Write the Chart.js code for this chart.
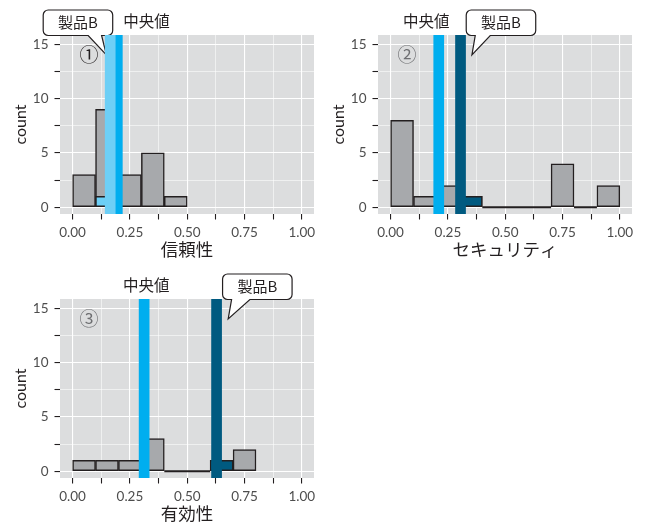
<!DOCTYPE html>
<html><head><meta charset="utf-8">
<script src="https://cdn.jsdelivr.net/npm/chart.js@4.4.1/dist/chart.umd.min.js"></script>
<style>
html,body{margin:0;padding:0;background:#fff;}
body{width:646px;height:527px;position:relative;overflow:hidden;}
canvas{position:absolute;}
</style></head><body>
<canvas id="c1" width="322" height="260" style="left:0px;top:0px"></canvas>
<canvas id="c2" width="322" height="260" style="left:318px;top:0px"></canvas>
<canvas id="c3" width="322" height="260" style="left:0px;top:264px"></canvas>
<script>
// ---- data ----
const axisTitles = ['信頼性', 'セキュリティ', '有効性'];
const panelMarks = ['①', '②', '③'];
const binWidth = 0.1;
const reliabilityCounts = [3, 9, 3, 5, 1];
const securityCounts = [8, 1, 2, 1, 0, 0, 0, 4, 0, 2];
const effectivenessCounts = [1, 1, 1, 3, 0, 0, 1, 2];
const medianValues = [0.195, 0.21, 0.312];
const productBValues = [0.164, 0.305, 0.628];
const productBCount = 1;
const xTickValues = [0, 0.125, 0.25, 0.375, 0.5, 0.625, 0.75, 0.875, 1];
const xTickLabels = ['0.00', '', '0.25', '', '0.50', '', '0.75', '', '1.00'];
const yTickValues = [0, 2.5, 5, 7.5, 10, 12.5, 15];
const yTickLabels = ['0', '', '5', '', '10', '', '15'];
const medianLabel = '中央値';
const productLabel = '製品B';
const yTitle = 'count';

// ---- style ----
const xMin = -0.055, xMax = 1.053, yMin = -0.62, yMax = 15.85;
const panelBg = '#DCDDDE';
const barFill = '#A7A9AC';
const outline = '#231F20';
const medianColor = '#00AEEF';
const bColors = ['#6DCFF6', '#005A80', '#005A80'];
const tickColor = '#4D4D4D';
const latin = 'Lato, "Noto Sans CJK JP", sans-serif';
const cjk = '"Noto Sans CJK JP", sans-serif';
const calloutGeo = [
  {tipDx: -3.8, boxLeft: -63.2, baseL: -18.2, baseR: -4.8, medDx: 29.3},
  {tipDx: 11.4, boxLeft: -5.7, baseL: 3.3, baseR: 18.3, medDx: -12.4},
  {tipDx: 11.6, boxLeft: -5.6, baseL: 3.4, baseR: 21.7, medDx: 2.1}
];

function notesPlugin(idx) {
  return {
    id: 'notes' + idx,
    beforeDraw(chart) {
      const {ctx, chartArea: a} = chart;
      ctx.save();
      ctx.fillStyle = panelBg;
      ctx.fillRect(a.left, a.top, a.right - a.left, a.bottom - a.top);
      ctx.restore();
    },
    beforeDatasetsDraw(chart) {
      const {ctx, chartArea: a, scales} = chart;
      const g = calloutGeo[idx];
      const bx = scales.x.getPixelForValue(productBValues[idx]);
      const tipX = bx + g.tipDx, tipY = a.top + 20;
      const left = tipX + g.boxLeft, right = left + 69.5;
      const top = a.top - 25, bottom = a.top + 0.5, r = 5;
      ctx.save();
      ctx.beginPath();
      ctx.moveTo(left + r, top);
      ctx.lineTo(right - r, top);
      ctx.arcTo(right, top, right, top + r, r);
      ctx.lineTo(right, bottom - r);
      ctx.arcTo(right, bottom, right - r, bottom, r);
      ctx.lineTo(tipX + g.baseR, bottom);
      ctx.lineTo(tipX, tipY);
      ctx.lineTo(tipX + g.baseL, bottom);
      ctx.lineTo(left + r, bottom);
      ctx.arcTo(left, bottom, left, bottom - r, r);
      ctx.lineTo(left, top + r);
      ctx.arcTo(left, top, left + r, top, r);
      ctx.closePath();
      ctx.fillStyle = '#fff';
      ctx.fill();
      ctx.lineWidth = 1.2;
      ctx.strokeStyle = outline;
      ctx.stroke();
      ctx.fillStyle = outline;
      ctx.font = '15px ' + cjk;
      ctx.textAlign = 'center';
      ctx.textBaseline = 'middle';
      ctx.fillText(productLabel, (left + right) / 2, (top + a.top) / 2);
      // median label
      const mx = scales.x.getPixelForValue(medianValues[idx]);
      ctx.font = '15.5px ' + cjk;
      ctx.fillText(medianLabel, mx + g.medDx, a.top - 13.4);
      // panel mark
      ctx.font = '19px ' + cjk;
      ctx.fillStyle = idx === 0 ? '#231F20' : '#6D6E71';
      ctx.fillText(panelMarks[idx], a.left + 29, a.top + 20);
      ctx.restore();
    }
  };
}

function buildPanel(canvasId, idx, counts) {
  const centers = counts.map((_, k) => (k + 0.5) * binWidth);
  const bIndex = Math.floor(productBValues[idx] / binWidth);
  const zeroSegments = [];
  counts.forEach((c, k) => {
    if (c === 0) zeroSegments.push({x: k * binWidth, y: 0}, {x: (k + 1) * binWidth, y: 0});
    else zeroSegments.push({x: centers[k], y: null});
  });
  const bColor = bColors[idx];
  return new Chart(document.getElementById(canvasId), {
    type: 'bar',
    data: {
      datasets: [
        {data: counts.map((c, k) => ({x: centers[k], y: c})), backgroundColor: barFill,
         borderColor: outline, borderWidth: 1.5, borderSkipped: false, grouped: false,
         barPercentage: 1, categoryPercentage: 1, order: 5},
        {data: [{x: centers[bIndex], y: productBCount}], backgroundColor: bColor,
         borderColor: outline, borderWidth: 1.5, borderSkipped: false, grouped: false,
         barPercentage: 1, categoryPercentage: 1, order: 4},
        {type: 'line', data: zeroSegments, borderColor: outline, borderWidth: 1.8,
         pointRadius: 0, spanGaps: false, order: 3},
        {type: 'line', data: [{x: medianValues[idx], y: yMin}, {x: medianValues[idx], y: yMax}],
         borderColor: medianColor, borderWidth: 10.7, pointRadius: 0, borderCapStyle: 'butt', order: 2},
        {type: 'line', data: [{x: productBValues[idx], y: yMin}, {x: productBValues[idx], y: yMax}],
         borderColor: bColor, borderWidth: 10.7, pointRadius: 0, borderCapStyle: 'butt', order: 1}
      ]
    },
    options: {
      responsive: false, animation: false, devicePixelRatio: 1, events: [],
      layout: {padding: {top: 35, right: 8, bottom: 0, left: 0}},
      plugins: {legend: {display: false}, tooltip: {enabled: false}},
      scales: {
        x: {
          type: 'linear', min: xMin, max: xMax, offset: false,
          afterBuildTicks: s => { s.ticks = xTickValues.map(v => ({value: v})); },
          afterFit: s => { s.height = 46; },
          ticks: {callback: (v, i) => xTickLabels[i], color: tickColor, font: {family: latin, size: 13.5},
                  padding: 5, maxRotation: 0, autoSkip: false},
          grid: {offset: false, color: '#ffffff', lineWidth: c => (xTickLabels[c.index] ? 1.1 : 0.55),
                 tickColor: outline, tickLength: 5.5, tickWidth: 1.1},
          border: {display: false},
          title: {display: true, text: axisTitles[idx], color: outline, font: {family: cjk, size: 17.5},
                  padding: {top: 0, bottom: 0.5}}
        },
        y: {
          type: 'linear', min: yMin, max: yMax,
          afterBuildTicks: s => { s.ticks = yTickValues.map(v => ({value: v})); },
          afterFit: s => { s.width = 60; },
          ticks: {callback: (v, i) => yTickLabels[i], color: tickColor, font: {family: latin, size: 13.5},
                  padding: 6, autoSkip: false},
          grid: {color: '#ffffff', lineWidth: c => (yTickLabels[c.index] ? 1.1 : 0.55),
                 tickColor: outline, tickLength: 5.5, tickWidth: 1.1},
          border: {display: false},
          title: {display: true, text: yTitle, color: outline, font: {family: latin, size: 16},
                  padding: {top: 10.9, bottom: 0}}
        }
      }
    },
    plugins: [notesPlugin(idx)]
  });
}

buildPanel('c1', 0, reliabilityCounts);
buildPanel('c2', 1, securityCounts);
buildPanel('c3', 2, effectivenessCounts);
</script>
</body></html>
